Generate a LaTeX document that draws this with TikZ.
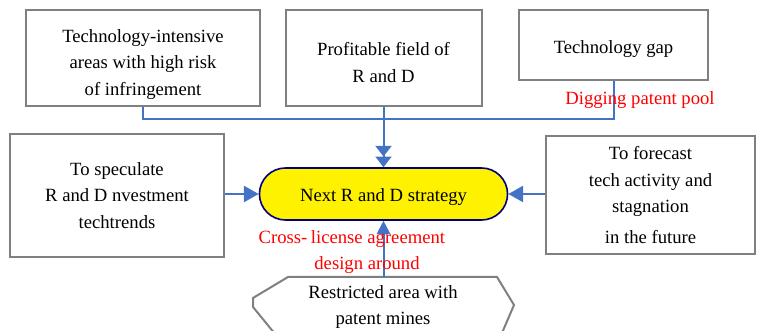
\documentclass[tikz,border=0pt]{standalone}
\usepackage{fontspec}
\setmainfont{Liberation Serif}
\usetikzlibrary{arrows.meta,shapes.misc}
\definecolor{boxgray}{RGB}{128,128,128}
\definecolor{linkblue}{RGB}{68,114,196}
\definecolor{navyline}{RGB}{0,0,128}

\begin{document}
\begin{tikzpicture}[x=0.75pt, y=-0.75pt,
    box node/.style={rectangle,draw=boxgray,line width=1.5pt,align=center,
                     font=\fontsize{14}{20}\selectfont},
    main node/.style={rounded rectangle,draw=navyline,fill=yellow,line width=1.2pt,
                      minimum width=192.75pt,minimum height=39pt,
                      font=\fontsize{14}{20}\selectfont},
    red label/.style={text=red,font=\fontsize{14}{20}\selectfont},
    link/.style={draw=linkblue,line width=1.5pt},
    to strategy/.style={-{Triangle[length=11pt,width=12pt]}}]
  \useasboundingbox (0,0) rectangle (758,331);

  \node[box node, minimum width=175.5pt, minimum height=72pt] (risk) at (143,58)
    {\rule{0pt}{19.5pt}Technology-intensive\\areas  with high risk\\of  infringement};
  \node[box node, minimum width=147pt, minimum height=72pt] (profit) at (383.5,58)
    {\rule{0pt}{16.5pt}Profitable  field of\\R  and D};
  \node[box node, minimum width=141.75pt, minimum height=52.5pt] (gap) at (613.5,45)
    {\rule{0pt}{16.5pt}Technology gap};
  \node[box node, minimum width=160.5pt, minimum height=92.25pt] (speculate) at (117,195.5)
    {To speculate\\R and D  nvestment\\techtrends};
  \node[box node, minimum width=156.75pt, minimum height=88.5pt] (forecast) at (650.5,195)
    {To forecast\\tech activity  and\\stagnation\\[3pt]in the future};
  \node[main node] (strategy) at (383.5,194) {\rule{0pt}{14pt}Next R and D strategy};

  \draw[draw=boxgray, line width=1.5pt] (280,340) -- (253,307) -- (253,298) -- (288,277)
    -- (497,277) -- (514,305) -- (499,340);
  \node[align=center, font=\fontsize{14}{20}\selectfont] (mines) at (383,307)
    {Restricted area with\\patent mines};
  \coordinate (mines top) at (383.5,277);

  \draw[link] (risk.south) -- ++(0,12) -| (gap.south);
  \draw[link, -{Triangle[length=8pt,width=12pt]Triangle[length=8pt,width=12pt]}]
    (profit.south) -- (strategy.north);
  \draw[link, to strategy] (speculate.east |- strategy.west) -- (strategy.west);
  \draw[link, to strategy] (forecast.west |- strategy.east) -- (strategy.east);
  \draw[link, -{Triangle[length=10pt,width=10pt]}] (mines top) -- (strategy.south);

  \node[red label] (pool) at (640,100) {Digging patent pool};
  \node[red label] (cross) at (283,237) {Cross-};
  \node[red label] (license) at (378,239) {license agreement};
  \node[red label] (design) at (367,265) {design around};
\end{tikzpicture}
\end{document}
